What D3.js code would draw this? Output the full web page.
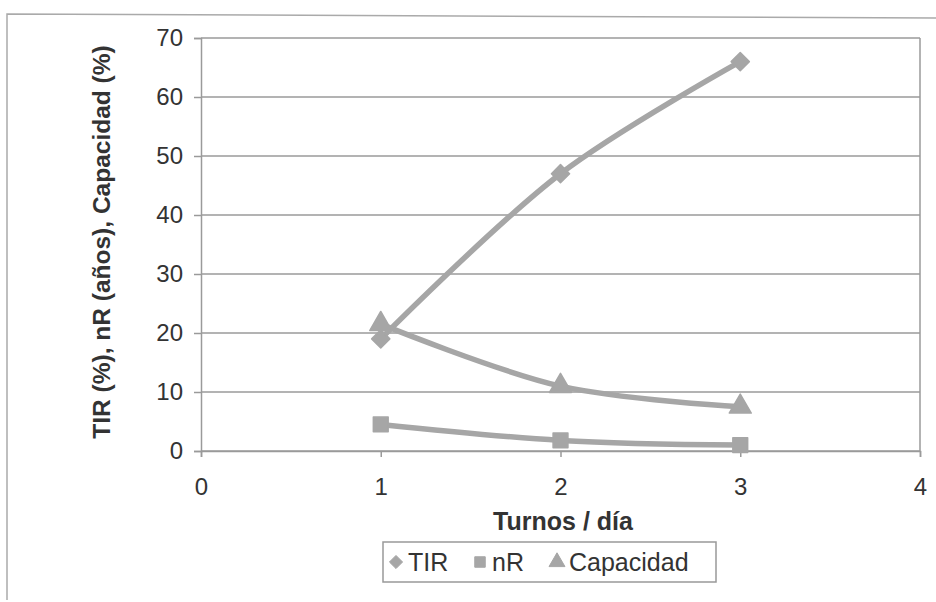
<!DOCTYPE html>
<html><head><meta charset="utf-8">
<script src="https://cdn.jsdelivr.net/npm/d3@7"></script>
<style>body{margin:0;background:#fff}svg{display:block}</style>
</head><body>
<svg id="c" width="936" height="602"></svg>
<script>
const turnos = [1, 2, 3];
const tir = [19, 47, 66];
const nR = [4.5, 1.8, 1.0];
const capacidad = [21.5, 11, 7.5];
const xTicks = [0, 1, 2, 3, 4];
const yTicks = [0, 10, 20, 30, 40, 50, 60, 70];
const seriesNames = ["TIR", "nR", "Capacidad"];

const svg = d3.select("#c");
const grey = "#a6a6a6", lineGrey = "#9a9a9a", txt = "#333";
const font = "Liberation Sans, Arial, sans-serif";
const L = 201, R = 920, T = 38, B = 451;
const x = d3.scaleLinear().domain([0, 4]).range([L, R]);
const y = d3.scaleLinear().domain([0, 70]).range([B, T]);

// outer frame
svg.append("path").attr("d", "M7,600 L7,14 L936,18").attr("fill","none").attr("stroke","#aaa").attr("stroke-width",1.5);

// gridlines
svg.append("g").selectAll("line").data(yTicks).join("line")
  .attr("x1", L).attr("x2", R).attr("y1", d => y(d)).attr("y2", d => y(d))
  .attr("stroke", lineGrey).attr("stroke-width", 1.5);
svg.append("line").attr("x1",R).attr("x2",R).attr("y1",T).attr("y2",B).attr("stroke",lineGrey).attr("stroke-width",1.5);

// y axis
const ya = svg.append("g").attr("transform", `translate(${L},0)`)
  .call(d3.axisLeft(y).tickValues(yTicks).tickSize(7).tickPadding(11).tickFormat(d3.format("d")));
ya.select(".domain").attr("stroke", lineGrey).attr("stroke-width",1.5);
ya.selectAll(".tick line").attr("stroke", lineGrey).attr("stroke-width",1.5);
ya.selectAll("text").attr("font-family",font).attr("font-size",24).attr("fill",txt);

// x axis
const xa = svg.append("g").attr("transform", `translate(0,${B})`)
  .call(d3.axisBottom(x).tickValues(xTicks).tickSize(6).tickPadding(21).tickFormat(d3.format("d")));
xa.select(".domain").attr("stroke", lineGrey).attr("stroke-width",1.5);
xa.selectAll(".tick line").attr("stroke", lineGrey).attr("stroke-width",1.5);
xa.selectAll("text").attr("font-family",font).attr("font-size",24).attr("fill",txt);

// axis titles
svg.append("text").attr("x", 563).attr("y", 530).attr("text-anchor","middle")
  .attr("font-family",font).attr("font-weight","bold").attr("font-size",25).attr("fill",txt)
  .text("Turnos / día");
svg.append("text").attr("transform","translate(110,242) rotate(-90)").attr("text-anchor","middle")
  .attr("font-family",font).attr("font-weight","bold").attr("font-size",24.5).attr("fill",txt)
  .text("TIR (%), nR (años), Capacidad (%)");

// series
const data = [tir, nR, capacidad];
const symbols = [d3.symbolDiamond2, d3.symbolSquare, d3.symbolTriangle];
const line = d3.line().x((d,i) => x(turnos[i])).y(d => y(d)).curve(d3.curveCatmullRom.alpha(0.5));
data.forEach((s, k) => {
  svg.append("path").attr("d", line(s)).attr("fill","none").attr("stroke",grey).attr("stroke-width",5.5);
  svg.append("g").selectAll("path").data(s).join("path")
    .attr("transform", (d,i) => `translate(${x(turnos[i])},${y(d)})`)
    .attr("d", d3.symbol().type(symbols[k]).size(k===1 ? 220 : 210))
    .attr("fill", grey).attr("stroke", grey).attr("stroke-width", 1.5).attr("stroke-linejoin","round");
});

// legend
const lg = svg.append("g");
lg.append("rect").attr("x",383).attr("y",542).attr("width",333).attr("height",40).attr("fill","none").attr("stroke","#999").attr("stroke-width",1.5);
const lx = [396, 480, 557];
seriesNames.forEach((n, k) => {
  lg.append("path").attr("transform", `translate(${lx[k]},562)`)
    .attr("d", d3.symbol().type(symbols[k]).size(110)).attr("fill", grey)
    .attr("stroke", grey).attr("stroke-width", 1).attr("stroke-linejoin","round");
  lg.append("text").attr("x", lx[k] + 12).attr("y", 571)
    .attr("font-family",font).attr("font-size",25).attr("fill",txt).text(n);
});
</script>
</body></html>
